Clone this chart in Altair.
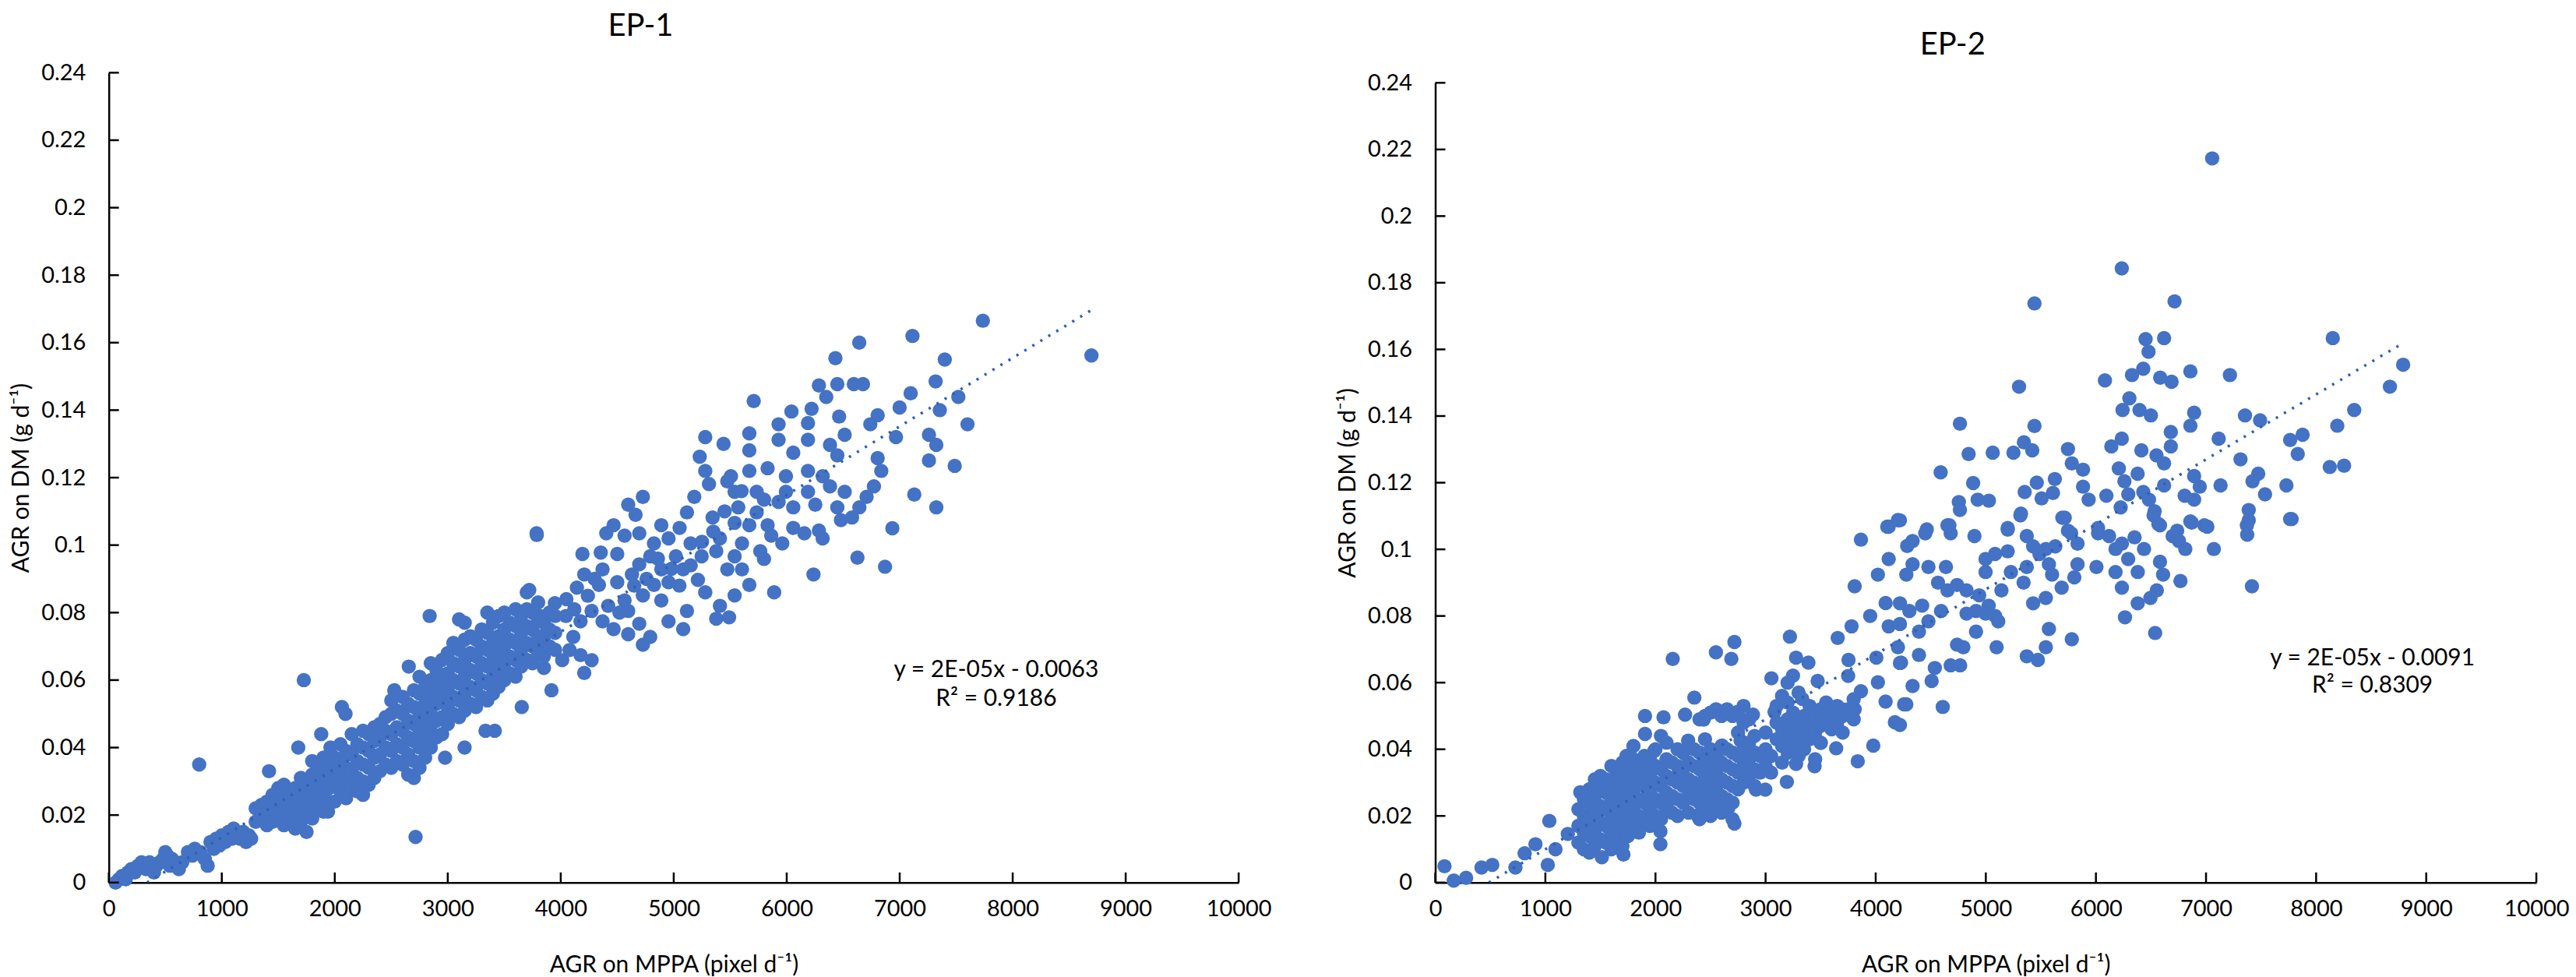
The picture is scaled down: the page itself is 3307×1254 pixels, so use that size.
import altair as alt
import pandas as pd

BLUE = "#4472C4"
LINE_BLUE = "#2f5fb3"
FONT = "Lato"

x_ticks = list(range(0, 10001, 1000))
y_ticks = [0, 0.02, 0.04, 0.06, 0.08, 0.1, 0.12, 0.14, 0.16, 0.18, 0.2, 0.22, 0.24]

# ---------------- EP-1 data ----------------
ep1_low = [(60, 0.000), (90, 0.001), (120, 0.002), (150, 0.001), (170, 0.003), (200, 0.004), (230, 0.003),
           (260, 0.005), (290, 0.006), (330, 0.004), (360, 0.006), (400, 0.003), (420, 0.005), (450, 0.006),
           (480, 0.007), (500, 0.009), (520, 0.008), (540, 0.005), (560, 0.007), (590, 0.006), (620, 0.004),
           (650, 0.006), (700, 0.009), (740, 0.008), (760, 0.010), (810, 0.009), (850, 0.007), (875, 0.005),
           (900, 0.012), (930, 0.010), (950, 0.013), (980, 0.011), (1000, 0.014), (1030, 0.012), (1060, 0.015),
           (1090, 0.013), (1105, 0.016), (1130, 0.014), (1160, 0.013), (1190, 0.015), (1215, 0.012),
           (1240, 0.014), (1260, 0.013)]

ep1_out = [(800, 0.035), (1418, 0.033), (1677, 0.040), (1726, 0.060), (1880, 0.044), (1940, 0.021),
           (1962, 0.040), (2063, 0.052), (2095, 0.050), (2250, 0.026), (2527, 0.057), (2655, 0.064),
           (2715, 0.0135), (2840, 0.079), (2976, 0.037), (3149, 0.040), (3334, 0.045), (3416, 0.045),
           (3655, 0.052), (3788, 0.103), (3918, 0.057)]

ep1_band = {
    1300: [0.018, 0.022], 1350: [0.019, 0.023], 1400: [0.017, 0.020, 0.024],
    1450: [0.018, 0.022, 0.026], 1500: [0.020, 0.024, 0.028], 1550: [0.017, 0.021, 0.025, 0.029],
    1600: [0.019, 0.023, 0.027], 1650: [0.016, 0.020, 0.024, 0.028], 1700: [0.018, 0.022, 0.026, 0.031],
    1750: [0.015, 0.021, 0.025, 0.029], 1800: [0.019, 0.023, 0.027, 0.032, 0.036],
    1850: [0.022, 0.026, 0.030, 0.034], 1900: [0.021, 0.025, 0.029, 0.033, 0.037],
    1950: [0.024, 0.028, 0.032, 0.036],
    2000: [0.024, 0.029, 0.033, 0.037], 2050: [0.027, 0.031, 0.036, 0.041],
    2100: [0.025, 0.030, 0.034, 0.039], 2150: [0.028, 0.033, 0.038, 0.044],
    2200: [0.027, 0.031, 0.036, 0.041], 2250: [0.030, 0.035, 0.040, 0.045],
    2300: [0.029, 0.034, 0.039, 0.044], 2350: [0.031, 0.037, 0.042, 0.046],
    2400: [0.033, 0.038, 0.043, 0.047], 2450: [0.035, 0.040, 0.045, 0.049],
    2500: [0.034, 0.039, 0.044, 0.050, 0.054], 2550: [0.036, 0.041, 0.046, 0.051],
    2600: [0.035, 0.040, 0.045, 0.050, 0.055], 2650: [0.032, 0.038, 0.043, 0.048, 0.053],
    2700: [0.031, 0.036, 0.042, 0.047, 0.052, 0.057], 2750: [0.034, 0.040, 0.045, 0.050, 0.056, 0.061],
    2800: [0.037, 0.042, 0.047, 0.053, 0.058], 2850: [0.040, 0.045, 0.050, 0.055, 0.060, 0.065],
    2900: [0.043, 0.048, 0.053, 0.058, 0.063], 2950: [0.044, 0.049, 0.055, 0.060, 0.066],
    3000: [0.047, 0.052, 0.057, 0.062, 0.068], 3050: [0.050, 0.055, 0.060, 0.065, 0.071],
    3100: [0.049, 0.054, 0.059, 0.064, 0.069, 0.078], 3150: [0.051, 0.056, 0.061, 0.066, 0.072, 0.077],
    3200: [0.053, 0.058, 0.063, 0.068, 0.073], 3250: [0.052, 0.057, 0.062, 0.067, 0.072],
    3300: [0.055, 0.060, 0.065, 0.070, 0.075], 3350: [0.054, 0.059, 0.064, 0.069, 0.074, 0.080],
    3400: [0.056, 0.061, 0.066, 0.071, 0.077], 3450: [0.058, 0.063, 0.068, 0.073, 0.079],
    3500: [0.060, 0.065, 0.070, 0.075, 0.080], 3550: [0.062, 0.067, 0.072, 0.077],
    3600: [0.061, 0.066, 0.071, 0.076, 0.081], 3650: [0.064, 0.069, 0.074, 0.079],
    3700: [0.066, 0.071, 0.076, 0.081, 0.086], 3750: [0.065, 0.070, 0.075, 0.080],
    3800: [0.068, 0.073, 0.078, 0.083], 3850: [0.067, 0.072, 0.077],
    3900: [0.070, 0.075, 0.080], 3950: [0.069, 0.074, 0.079],
}

ep1_high = [(7736, 0.1665), (8697, 0.1562), (7113, 0.162), (6642, 0.160), (6431, 0.1554), (7399, 0.155),
            (6285, 0.1473), (6448, 0.1477), (6594, 0.1477), (6675, 0.1477), (6350, 0.1439), (7318, 0.1485),
            (7097, 0.145), (7519, 0.1439), (5708, 0.1427), (6042, 0.1396), (6220, 0.1404), (6999, 0.1408),
            (7355, 0.140), (6805, 0.1385), (7600, 0.1358), (6464, 0.1381), (6513, 0.1327), (6740, 0.1358),
            (5928, 0.1358), (6188, 0.1362), (6967, 0.132), (7259, 0.1327), (7324, 0.1297), (7259, 0.1251),
            (7487, 0.1235), (5279, 0.132), (5441, 0.130), (5669, 0.1331), (5669, 0.1281), (5928, 0.1312),
            (6188, 0.1312), (6058, 0.1274), (6383, 0.1297), (6448, 0.1266), (6805, 0.1258), (6837, 0.122),
            (5230, 0.1262), (5279, 0.122), (5312, 0.1181), (5506, 0.1204), (5669, 0.122), (5831, 0.1228),
            (5993, 0.1204), (6188, 0.122), (6318, 0.1204), (6383, 0.1174), (6513, 0.1158), (6772, 0.1174),
            (6707, 0.1143), (6643, 0.1112), (6578, 0.1082), (7129, 0.115), (7324, 0.1112), (6935, 0.105),
            (6626, 0.0963), (6870, 0.0936), (6237, 0.0913), (5889, 0.086), (5474, 0.1189), (5539, 0.1158),
            (5734, 0.1158), (5799, 0.1135), (5993, 0.1158), (6188, 0.1158), (6253, 0.112), (6448, 0.1112),
            (6480, 0.1074), (6058, 0.1112), (5928, 0.1128), (5734, 0.1097), (5571, 0.1112), (5539, 0.1066),
            (5669, 0.1059), (5831, 0.1059), (5863, 0.1028), (6058, 0.1051), (6156, 0.1035), (6285, 0.1043),
            (6318, 0.102), (5961, 0.1005), (5766, 0.0982), (5799, 0.0959), (5604, 0.1005), (5539, 0.0967),
            (5409, 0.102), (5376, 0.0982), (5344, 0.1082), (5474, 0.0928), (5604, 0.0928), (5669, 0.0882),
            (5539, 0.0851), (5409, 0.082), (5376, 0.0782), (5490, 0.0786), (5182, 0.1143), (5117, 0.1097),
            (5052, 0.1051), (5149, 0.1005), (5247, 0.0967), (5084, 0.0928), (5214, 0.0897), (5279, 0.086),
            (5117, 0.0805), (5019, 0.0967), (4954, 0.102), (4890, 0.1059), (4727, 0.1143), (4597, 0.112),
            (4662, 0.109), (4468, 0.1059), (4403, 0.1035), (4565, 0.1028), (4695, 0.1035), (4825, 0.1005),
            (4792, 0.0967), (4695, 0.0943), (4890, 0.0928), (4954, 0.089), (4825, 0.0882), (4727, 0.0851),
            (4890, 0.0836), (4565, 0.0836), (4597, 0.0805), (4500, 0.089), (4338, 0.0882), (4143, 0.0874),
            (4208, 0.0913), (4192, 0.0974), (4354, 0.0978), (4500, 0.0974), (4630, 0.0913), (4370, 0.0928),
            (4273, 0.0805), (4046, 0.079), (4175, 0.0774), (4111, 0.0728), (4370, 0.0774), (4468, 0.0751),
            (4597, 0.0736), (4695, 0.0767), (4727, 0.0705), (4792, 0.0728), (4954, 0.0774), (5084, 0.0751),
            (4078, 0.0689), (4175, 0.0674), (4273, 0.0659), (4208, 0.0621), (4013, 0.0659), (3786, 0.0697),
            (3851, 0.0636), (3786, 0.1035), (3948, 0.0828), (3818, 0.079), (3883, 0.0751), (3721, 0.0867),
            (3721, 0.0805), (3802, 0.072), (4050, 0.0840), (4120, 0.0810), (4240, 0.0850), (4300, 0.0900),
            (4420, 0.0820), (4520, 0.0800), (4650, 0.0880), (4760, 0.0900), (4860, 0.0960), (4980, 0.0930),
            (5050, 0.0880), (5150, 0.0940), (5250, 0.1010), (5350, 0.1040), (5450, 0.1100), (5600, 0.1160)]

ep1_trend_x = [340, 8700]
ep1_trend_y = [0.0, 0.1697]

# ---------------- EP-2 data ----------------
ep2_low = [(84, 0.0049), (168, 0.0006), (280, 0.0014), (420, 0.0045), (518, 0.0053), (728, 0.0045),
           (812, 0.0088), (910, 0.0115), (1022, 0.0053), (1092, 0.010), (1036, 0.0185), (1204, 0.0146),
           (1317, 0.0271), (1373, 0.0177), (1513, 0.0076), (1429, 0.0224), (1541, 0.0286), (1653, 0.0123),
           (1709, 0.0084), (1597, 0.0177), (1737, 0.038), (1765, 0.024), (1877, 0.0333), (1905, 0.050),
           (1905, 0.0446), (1849, 0.0162), (1989, 0.0395), (2045, 0.0115), (2073, 0.0496), (2101, 0.0232),
           (2045, 0.0154), (2157, 0.0671), (2213, 0.0333), (2269, 0.0504), (2297, 0.0426), (2353, 0.0555),
           (2381, 0.0201), (2325, 0.0271), (2437, 0.0489), (2493, 0.0364), (2549, 0.0691), (2689, 0.0671),
           (2717, 0.0722), (2563, 0.0512), (2605, 0.0411), (2577, 0.0302), (2661, 0.0224), (2717, 0.0177),
           (2745, 0.0512), (2773, 0.0426), (2829, 0.0333), (2885, 0.0504), (2913, 0.0279), (2997, 0.038),
           (2997, 0.0279), (3053, 0.0613), (3081, 0.0512), (3165, 0.0442), (3193, 0.0302), (3221, 0.0738),
           (3249, 0.0621), (3277, 0.0675), (3277, 0.0356), (3333, 0.0551), (3389, 0.066), (3389, 0.0457),
           (3445, 0.0349), (3473, 0.0605), (3501, 0.0419), (3557, 0.0535), (3641, 0.0403), (3655, 0.0734),
           (3697, 0.052), (3781, 0.0769), (3753, 0.0668), (3809, 0.0889), (3809, 0.052), (3837, 0.0364),
           (3866, 0.1029), (3866, 0.0574), (3950, 0.080), (3978, 0.0411), (4020, 0.0924), (4006, 0.0675),
           (4020, 0.0601), (4090, 0.0543), (4118, 0.0971), (4118, 0.0769), (4118, 0.1068), (4090, 0.0839),
           (4174, 0.0481), (4202, 0.1088), (4202, 0.0706), (4230, 0.066), (4258, 0.0535), (4286, 0.101)]

ep2_band = {
    1300: [0.012, 0.017, 0.022], 1350: [0.010, 0.015, 0.020, 0.025],
    1400: [0.009, 0.014, 0.019, 0.024, 0.028], 1450: [0.011, 0.016, 0.021, 0.026, 0.031],
    1500: [0.013, 0.018, 0.023, 0.028, 0.032], 1550: [0.012, 0.017, 0.022, 0.027, 0.031],
    1600: [0.010, 0.015, 0.020, 0.025, 0.030, 0.035], 1650: [0.013, 0.018, 0.023, 0.028, 0.033],
    1700: [0.011, 0.016, 0.021, 0.026, 0.031, 0.036], 1750: [0.014, 0.019, 0.024, 0.029, 0.034],
    1800: [0.017, 0.022, 0.027, 0.032, 0.037, 0.041], 1850: [0.015, 0.020, 0.025, 0.030, 0.035],
    1900: [0.019, 0.024, 0.029, 0.034, 0.038], 1950: [0.017, 0.022, 0.027, 0.032, 0.037],
    2000: [0.020, 0.025, 0.030, 0.035, 0.040], 2050: [0.019, 0.024, 0.029, 0.034, 0.044],
    2100: [0.022, 0.027, 0.032, 0.037, 0.042], 2150: [0.021, 0.026, 0.031, 0.036],
    2200: [0.020, 0.025, 0.030, 0.035, 0.040], 2250: [0.024, 0.029, 0.034, 0.039],
    2300: [0.021, 0.026, 0.031, 0.036, 0.041], 2350: [0.025, 0.030, 0.035, 0.040],
    2400: [0.019, 0.024, 0.029, 0.034, 0.039, 0.049], 2450: [0.022, 0.027, 0.032, 0.037, 0.043, 0.050],
    2500: [0.020, 0.025, 0.030, 0.035, 0.040, 0.051], 2550: [0.023, 0.028, 0.033, 0.038, 0.052],
    2600: [0.021, 0.026, 0.031, 0.036, 0.041, 0.050], 2650: [0.025, 0.030, 0.035, 0.040, 0.052],
    2700: [0.019, 0.024, 0.029, 0.034, 0.039, 0.050], 2750: [0.028, 0.033, 0.038, 0.045, 0.051],
    2800: [0.030, 0.035, 0.040, 0.048, 0.053], 2850: [0.032, 0.037, 0.042, 0.049],
    2900: [0.029, 0.034, 0.039, 0.044], 2950: [0.033, 0.038], 3000: [0.035, 0.040, 0.045],
    3050: [0.033, 0.038], 3100: [0.043, 0.048, 0.053], 3150: [0.036, 0.041, 0.046, 0.056],
    3200: [0.039, 0.044, 0.049, 0.054, 0.060], 3250: [0.041, 0.046, 0.051],
    3300: [0.038, 0.043, 0.048, 0.057], 3350: [0.040, 0.045, 0.050], 3400: [0.043, 0.048, 0.053],
    3450: [0.037, 0.045, 0.050], 3500: [0.042, 0.047, 0.052], 3550: [0.049, 0.054],
    3600: [0.046, 0.051], 3650: [0.048, 0.053], 3700: [0.045, 0.050], 3750: [0.052, 0.062],
    3800: [0.049, 0.055],
}

ep2_mid = [(4220, 0.1087), (4335, 0.1025), (4450, 0.1048), (4652, 0.1072), (4681, 0.1048), (4897, 0.104),
           (5199, 0.1059), (5314, 0.1102), (5372, 0.104), (5430, 0.1009), (5545, 0.1001), (5631, 0.1009),
           (5717, 0.1095), (5775, 0.1048), (5833, 0.1017), (6020, 0.1048), (6120, 0.104), (6236, 0.1017),
           (6351, 0.1036), (6178, 0.1001), (6437, 0.1001), (6524, 0.1102), (6582, 0.1072), (6697, 0.104),
           (6754, 0.1025), (6812, 0.1001), (6870, 0.108), (6985, 0.1072), (7071, 0.1001), (7388, 0.1087),
           (7374, 0.1044), (7777, 0.1091), (7417, 0.0889), (4335, 0.0955), (4278, 0.0924), (4479, 0.0947),
           (4638, 0.0947), (4566, 0.090), (4739, 0.0893), (4652, 0.0877), (4825, 0.0877), (4940, 0.0862),
           (4998, 0.0971), (4998, 0.0932), (5084, 0.0986), (5142, 0.0877), (5199, 0.0994), (5228, 0.0932),
           (5343, 0.090), (5372, 0.0947), (5487, 0.0986), (5573, 0.0955), (5602, 0.0924), (5689, 0.0885),
           (5804, 0.0916), (5833, 0.0955), (6005, 0.0947), (6178, 0.0932), (6236, 0.0885), (6293, 0.0971),
           (6380, 0.0932), (6582, 0.0963), (6610, 0.0924), (6553, 0.0877), (6495, 0.0854), (6768, 0.0905),
           (6380, 0.0838), (6264, 0.0796), (6538, 0.0749), (4220, 0.0838), (4306, 0.0815), (4422, 0.0831),
           (4479, 0.0784), (4393, 0.0753), (4220, 0.0776), (4594, 0.0815), (4825, 0.0807), (4911, 0.0815),
           (5026, 0.0831), (5084, 0.080), (5113, 0.0784), (4911, 0.0753), (4739, 0.0714), (4796, 0.0706),
           (5098, 0.0706), (4998, 0.0807), (5430, 0.0838), (5545, 0.0854), (5573, 0.0761), (5545, 0.0706),
           (5781, 0.073), (5372, 0.0679), (5473, 0.0668), (4393, 0.0683), (4537, 0.0644), (4681, 0.0652),
           (4767, 0.0652), (4508, 0.0605), (4335, 0.059), (4220, 0.0659), (4278, 0.0535), (4609, 0.0527),
           (4220, 0.0473)]

ep2_high = [(7056, 0.2173), (6235, 0.1843), (5442, 0.1738), (6714, 0.1744), (6451, 0.1631), (6619, 0.1634),
            (8151, 0.1634), (6478, 0.1593), (8790, 0.1554), (8670, 0.1488), (6858, 0.1534), (7217, 0.1523),
            (6430, 0.1542), (6328, 0.1523), (6082, 0.1507), (6584, 0.1515), (6687, 0.1503), (5302, 0.1488),
            (6304, 0.1453), (6242, 0.1418), (6396, 0.1418), (6499, 0.1402), (6892, 0.141), (6858, 0.1371),
            (7354, 0.1402), (7491, 0.1387), (8346, 0.1418), (8192, 0.1371), (4765, 0.1377), (5442, 0.137),
            (6680, 0.1352), (7115, 0.1332), (7764, 0.1328), (7877, 0.1344), (7833, 0.1286), (6680, 0.1309),
            (6235, 0.1332), (6140, 0.1309), (6413, 0.1297), (5346, 0.1321), (5422, 0.1297), (5251, 0.129),
            (5063, 0.129), (4844, 0.1286), (5746, 0.1301), (5781, 0.1258), (5883, 0.1239), (6550, 0.1282),
            (6619, 0.1258), (7313, 0.127), (4590, 0.1231), (4885, 0.1199), (8124, 0.1247), (8254, 0.1251),
            (6208, 0.1243), (6259, 0.1204), (6379, 0.1227), (6892, 0.122), (7474, 0.1227), (7422, 0.1204),
            (7132, 0.1192), (7730, 0.1192), (6619, 0.1192), (6943, 0.1188), (5627, 0.1211), (5463, 0.120),
            (5353, 0.1172), (5883, 0.1188), (5610, 0.1169), (5507, 0.1153), (5934, 0.1149), (6095, 0.1161),
            (6294, 0.1165), (6430, 0.1172), (6482, 0.1149), (6806, 0.1161), (6892, 0.1149), (7536, 0.1165),
            (6225, 0.1126), (4755, 0.1142), (4926, 0.1149), (5028, 0.1146), (4765, 0.1118), (5319, 0.1107),
            (6533, 0.1114), (7388, 0.1118), (7764, 0.1091), (4207, 0.1087), (4105, 0.1068), (4464, 0.106),
            (4669, 0.1072), (5199, 0.1064), (5695, 0.1095), (5746, 0.1056), (6020, 0.1064), (6567, 0.1076),
            (6858, 0.1084), (7012, 0.1068), (7371, 0.1072), (6738, 0.1056)]

ep2_trend_x = [487, 8790]
ep2_trend_y = [0.0, 0.1619]

ep1_eq = ["y = 2E-05x - 0.0063", "R² = 0.9186"]
ep2_eq = ["y = 2E-05x - 0.0091", "R² = 0.8309"]


def points_frame(*groups, band=None):
    rows = []
    for g in groups:
        rows += [{"x": a, "y": b} for a, b in g]
    if band:
        for bx, ys in band.items():
            rows += [{"x": bx, "y": v} for v in ys]
    return pd.DataFrame(rows)


def panel(df, tx, ty, eq, eq_x, eq_y, title, width, height, top, title_dy):
    xs = alt.Scale(domain=[0, 10000], nice=False, zero=False)
    ys = alt.Scale(domain=[0, 0.24], nice=False, zero=False, range=[height, top])
    x_axis = alt.Axis(values=x_ticks, format="d", title="AGR on MPPA (pixel d⁻¹)", grid=False,
                      ticks=False, labelPadding=20, titlePadding=42, domainColor="black", domainWidth=2.5,
                      labelFont=FONT, labelFontSize=29, labelColor="black", labelFlush=False,
                      labelOverlap=False, titleFont=FONT, titleFontSize=30, titleFontWeight="normal",
                      titleColor="black")
    y_axis = alt.Axis(values=y_ticks, format="~g", title="AGR on DM (g d⁻¹)", grid=False,
                      ticks=False, labelPadding=30, titlePadding=10, domainColor="black", domainWidth=2.5,
                      labelFont=FONT, labelFontSize=29, labelColor="black", labelFlush=False,
                      labelOverlap=False, titleFont=FONT, titleFontSize=30, titleFontWeight="normal",
                      titleColor="black")

    X = lambda f: alt.X(f, scale=xs, axis=x_axis)
    Y = lambda f: alt.Y(f, scale=ys, axis=y_axis)

    pts = alt.Chart(df).mark_circle(size=340, color=BLUE, opacity=1).encode(x=X("x:Q"), y=Y("y:Q"))
    trend = alt.Chart(pd.DataFrame({"x": tx, "y": ty})).mark_line(
        color=LINE_BLUE, strokeWidth=3.5, strokeDash=[3, 9], clip=True
    ).encode(x=X("x:Q"), y=Y("y:Q"))

    xt = alt.Chart(pd.DataFrame({"t": x_ticks})).mark_rule(color="black", strokeWidth=2.5).encode(
        x=X("t:Q"), y=alt.value(height), y2=alt.value(height - 13)
    )
    yt = alt.Chart(pd.DataFrame({"t": y_ticks})).mark_rule(color="black", strokeWidth=2.5).encode(
        y=Y("t:Q"), x=alt.value(0), x2=alt.value(13)
    )
    txt = alt.Chart(pd.DataFrame({"x": eq_x, "y": eq_y, "t": eq})).mark_text(
        font=FONT, fontSize=30, color="black", align="center", baseline="middle"
    ).encode(x=X("x:Q"), y=Y("y:Q"), text="t:N")

    return alt.layer(pts, trend, xt, yt, txt).properties(
        width=width, height=height,
        title=alt.TitleParams(title, font=FONT, fontSize=40, fontWeight="normal", color="black",
                              anchor="middle", frame="bounds", offset=25, dy=title_dy),
    )


df1 = points_frame(ep1_low, ep1_out, ep1_high, band=ep1_band)
df2 = points_frame(ep2_low, ep2_mid, ep2_high, band=ep2_band)

p1 = panel(df1, ep1_trend_x, ep1_trend_y, ep1_eq, [7854, 7854], [0.0629, 0.0544], "EP-1", 1454, 1042, 0, 0)
p2 = panel(df2, ep2_trend_x, ep2_trend_y, ep2_eq, [8511, 8511], [0.0672, 0.0592], "EP-2", 1417, 1042, 13, 11)

chart = alt.hconcat(p1, p2, spacing=82).properties(
    padding={"left": 4, "top": 5, "right": 0, "bottom": 0}, background="white"
).configure_view(stroke=None)

chart.save("out.html", embed_options={"renderer": "svg", "actions": False})
